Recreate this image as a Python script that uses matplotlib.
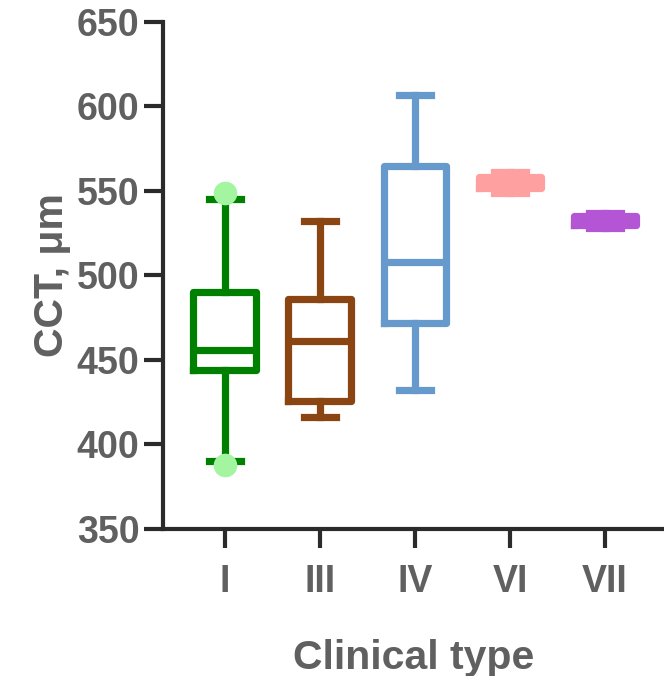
import matplotlib.pyplot as plt

plt.rcParams['font.family'] = ['Liberation Sans', 'DejaVu Sans']
plt.rcParams['font.weight'] = 'bold'
plt.rcParams['axes.labelweight'] = 'bold'

# box plot summary per clinical type
types = ['I', 'III', 'IV', 'VI', 'VII']
whislo = [390, 416, 432, 549, 528]
q1 = [444, 426, 472, 552, 530]
med = [456, 461, 508, 555, 533]
q3 = [490, 486, 565, 558, 535]
whishi = [545, 532, 607, 561, 537]
colors = ['#008000', '#8b4513', '#6699cc', '#ffa0a0', '#b455d5']

# extra points shown for group I
pts_x = ['I', 'I']
pts_y = [549, 388]

fig = plt.figure(figsize=(6.64, 6.76), dpi=100)
ax = fig.add_axes([0.2455, 0.2175, 0.7545, 0.75])

pos = list(range(1, len(types) + 1))
for i, t in enumerate(types):
    st = [{'whislo': whislo[i], 'q1': q1[i], 'med': med[i], 'q3': q3[i],
           'whishi': whishi[i], 'fliers': []}]
    c = colors[i]
    ax.bxp(st, positions=[pos[i]], widths=0.66, showfliers=False,
           capwidths=0.34,
           boxprops=dict(color=c, linewidth=5.2),
           medianprops=dict(color=c, linewidth=5.2),
           whiskerprops=dict(color=c, linewidth=5.2),
           capprops=dict(color=c, linewidth=5.2))

ax.plot([pos[types.index(x)] for x in pts_x], pts_y, 'o', color='#a3f5a0',
        markersize=16, zorder=5, clip_on=False)

ax.set_ylim(350, 650)
ax.set_yticks(range(350, 651, 50))
ax.set_xlim(0.35, 5.62)
ax.set_xticks(pos)
ax.set_xticklabels(types)

for s in ['top', 'right']:
    ax.spines[s].set_visible(False)
for s in ['left', 'bottom']:
    ax.spines[s].set_linewidth(3)
    ax.spines[s].set_color('#2b2b2b')

ax.tick_params(axis='y', length=14, width=3, color='#2b2b2b',
               labelsize=27, labelcolor='#606060', pad=3)
ax.tick_params(axis='x', length=14, width=3, color='#2b2b2b',
               labelsize=27, labelcolor='#606060', pad=11)

ax.set_xlabel('Clinical type', fontsize=29.5, color='#606060', labelpad=28)
ax.set_ylabel('CCT, μm', fontsize=29.5, color='#606060', labelpad=4)

fig.savefig('out.png', dpi=100)
